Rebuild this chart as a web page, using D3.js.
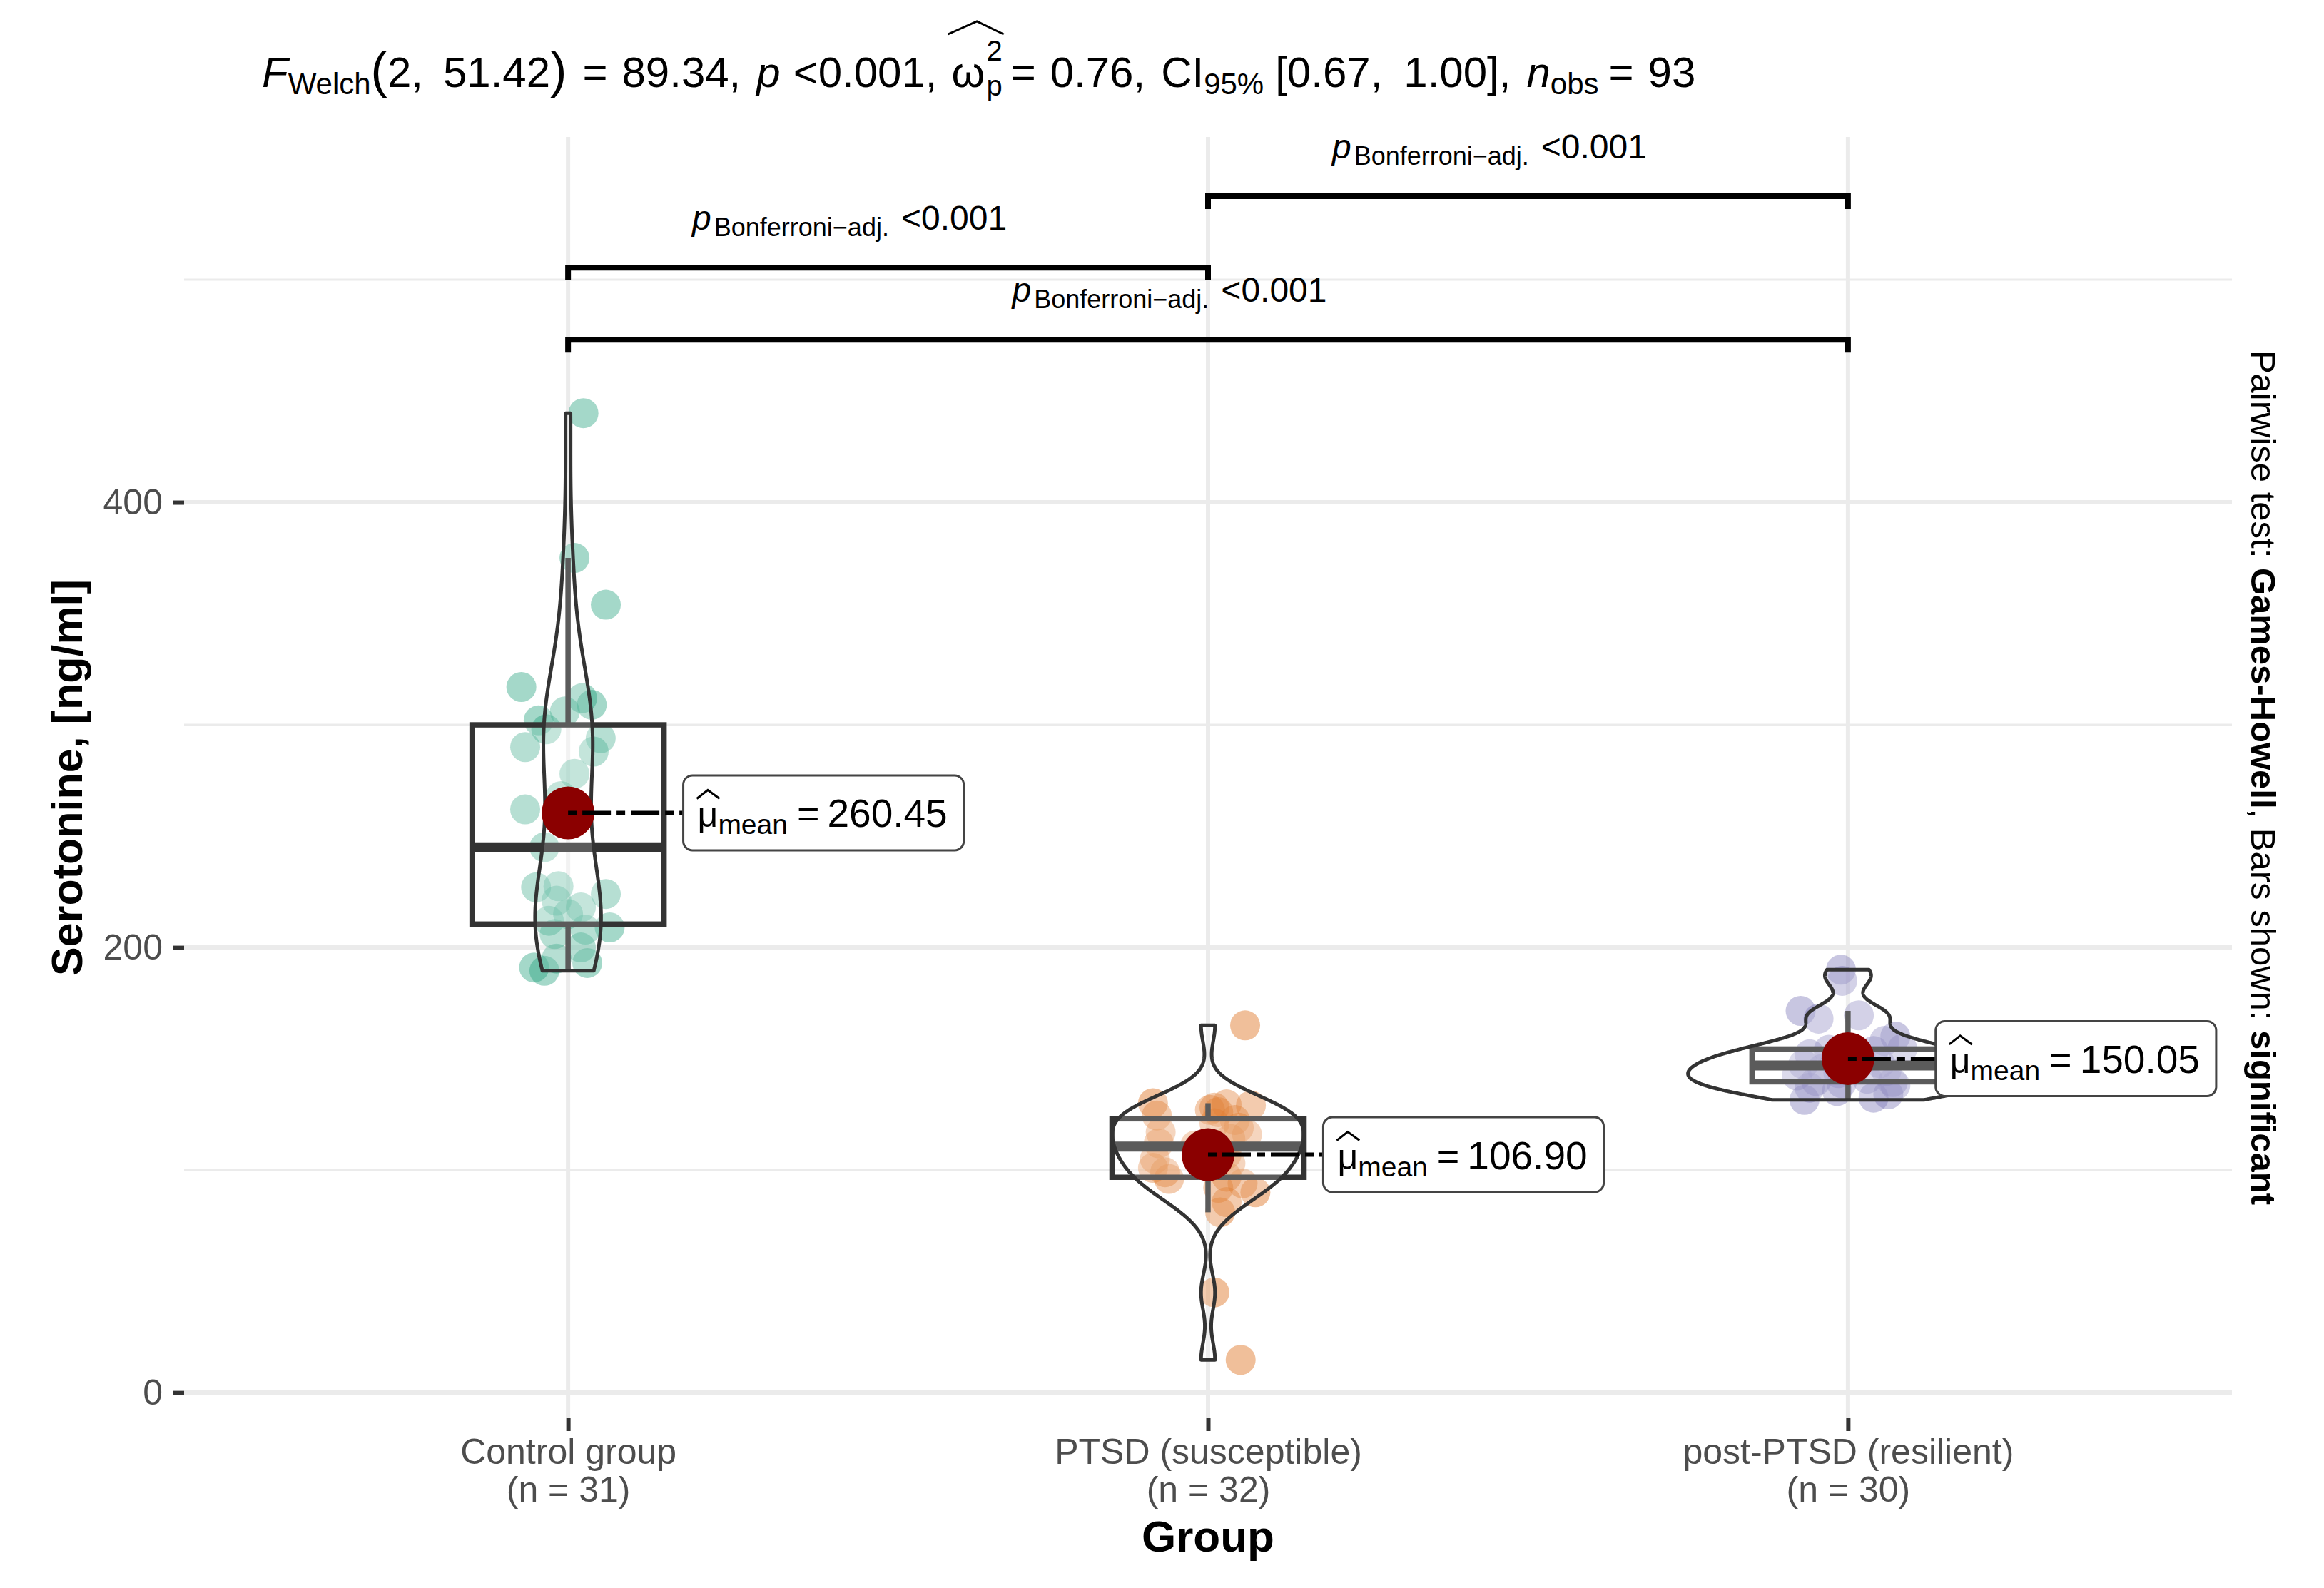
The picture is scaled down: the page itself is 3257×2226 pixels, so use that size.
<!DOCTYPE html>
<html><head><meta charset="utf-8">
<script src="https://cdn.jsdelivr.net/npm/d3@7"></script>
<style>
html,body{margin:0;padding:0;background:#fff;}
svg{display:block;font-family:"Liberation Sans",Arial,sans-serif;}
text{white-space:pre;}
</style>
</head><body>
<svg id="chart" width="3257" height="2226"></svg>
<script>
// ---------------- DATA ----------------
const categories = ["Control group", "PTSD (susceptible)", "post-PTSD (resilient)"];
const groupColors = ["#1B9E77", "#D95F02", "#7570B3"];

const controlValues = [189.5, 191, 193, 195, 200, 206, 208, 209, 212, 215, 218, 221, 224, 227, 227.5, 245,
  262, 268, 278, 288, 290, 294, 298, 302, 306, 309, 312, 317, 354, 375, 440];
const controlJitter = [-0.037, -0.053, 0.03, -0.018, 0.02, -0.021, 0.027, 0.065, -0.03, 0.0, 0.02, -0.018, 0.059,
  -0.05, -0.015, -0.037, -0.067, -0.011, 0.01, 0.04, -0.067, 0.051, -0.034, -0.046, -0.005, 0.037, 0.022, -0.073,
  0.059, 0.01, 0.024];

const ptsdValues = [14.7, 45, 81, 85.6, 90, 92, 94, 96, 97, 99, 101, 103, 105, 107, 109, 110, 111, 112, 114, 116,
  117, 119, 121, 122.5, 124.5, 126, 127, 128, 129, 129.5, 130, 165];
const ptsdJitter = [0.051, 0.01, 0.019, 0.029, 0.074, 0.016, 0.054, -0.061, 0.029, -0.067, -0.086, 0.035, -0.083,
  0.029, -0.003, 0.01, -0.02, -0.077, 0.035, 0.061, -0.074, 0.048, 0.01, 0.042, -0.08, 0.016, 0.003, 0.01, 0.067,
  0.029, -0.086, 0.058];

const postValues = [131.5, 132.5, 134, 135.5, 137, 138, 139, 139.5, 140, 141, 142.5, 143.5, 144.5, 145.5, 146.5,
  147.5, 148, 149, 150.5, 152, 153.5, 154, 154.5, 158, 160, 168, 169.5, 171.5, 185, 190];
const postJitter = [-0.068, 0.04, 0.063, -0.017, -0.06, 0.074, -0.01, 0.07, -0.05, 0.03, -0.08, -0.015, 0.06,
  -0.04, 0.01, -0.07, 0.05, -0.02, 0.02, -0.06, 0.04, -0.03, 0.085, 0.057, 0.074, -0.046, 0.017, -0.074, -0.009,
  -0.011];

const yTicks = [0, 200, 400];
const yMinorTicks = [100, 300, 500];
const yDomain = [-11.5, 564.1];

// pairwise comparisons (ggsignif style)
const pairFrom = [0, 1, 0];
const pairTo = [1, 2, 2];
const pairY = [505.4, 537.5, 473.0];
const pairP = ["<0.001", "<0.001", "<0.001"];

// ---------------- LAYOUT ----------------
const svg = d3.select("#chart");
const panel = {left: 258, right: 3128, top: 192, bottom: 1988};
const x = d3.scaleLinear().domain([0.4, 3.6]).range([panel.left, panel.right]);
const y = d3.scaleLinear().domain(yDomain).range([panel.bottom, panel.top]);
const step = x(2) - x(1);
const labelNudge = [0.18, 0.18, 0.137];

svg.append("rect").attr("width", 3257).attr("height", 2226).attr("fill", "#fff");

// math-text helper
function mathText(parent, parts) {
  const g = parent.append("g");
  let cx = 0;
  const marks = {};
  parts.forEach(p => {
    if (p.gap !== undefined) { cx += p.gap; return; }
    if (p.mark) { marks[p.mark] = cx; return; }
    if (p.stack) {
      const a = g.append("text").attr("x", cx).attr("y", p.supDy).attr("font-size", p.size).text(p.sup);
      const b = g.append("text").attr("x", cx).attr("y", p.subDy).attr("font-size", p.size).text(p.sub);
      cx += Math.max(a.node().getComputedTextLength(), b.node().getComputedTextLength());
      return;
    }
    const t = g.append("text").attr("x", cx).attr("y", p.dy || 0).attr("font-size", p.size)
      .attr("font-style", p.italic ? "italic" : null).attr("fill", p.fill || "#000").text(p.t);
    const w = t.node().getComputedTextLength();
    if (p.name) marks[p.name] = {x: cx, w: w};
    cx += w;
  });
  return {g: g, width: cx, marks: marks};
}

// ---------------- GRID ----------------
const grid = svg.append("g");
grid.selectAll(".minor").data(yMinorTicks).join("line")
  .attr("x1", panel.left).attr("x2", panel.right).attr("y1", d => y(d)).attr("y2", d => y(d))
  .attr("stroke", "#EBEBEB").attr("stroke-width", 3);
grid.selectAll(".major").data(yTicks).join("line")
  .attr("x1", panel.left).attr("x2", panel.right).attr("y1", d => y(d)).attr("y2", d => y(d))
  .attr("stroke", "#EBEBEB").attr("stroke-width", 6);
grid.selectAll(".vmajor").data(categories).join("line")
  .attr("x1", (d, i) => x(i + 1)).attr("x2", (d, i) => x(i + 1)).attr("y1", panel.top).attr("y2", panel.bottom)
  .attr("stroke", "#EBEBEB").attr("stroke-width", 6);

// ---------------- AXES ----------------
const yAxis = svg.append("g").attr("transform", `translate(${panel.left},0)`)
  .call(d3.axisLeft(y).tickValues(yTicks).tickSize(16).tickPadding(14));
yAxis.select(".domain").remove();
yAxis.attr("font-size", 50).attr("font-family", null);
yAxis.selectAll(".tick line").attr("stroke", "#333").attr("stroke-width", 6);
yAxis.selectAll(".tick text").attr("fill", "#4D4D4D");

const xAxis = svg.append("g").attr("transform", `translate(0,${panel.bottom})`)
  .call(d3.axisBottom(x).tickValues([1, 2, 3]).tickSize(18).tickFormat(""));
xAxis.select(".domain").remove();
xAxis.attr("font-size", 50).attr("font-family", null);
xAxis.selectAll(".tick line").attr("stroke", "#333").attr("stroke-width", 6);
const groupsAll = [controlValues, ptsdValues, postValues];
xAxis.selectAll(".tick").each(function (d, i) {
  const t = d3.select(this).select("text").attr("y", null).attr("dy", null).attr("fill", "#4D4D4D");
  t.append("tspan").attr("x", 0).attr("y", 64).text(categories[i]);
  t.append("tspan").attr("x", 0).attr("y", 117).text(`(n = ${groupsAll[i].length})`);
});

svg.append("text").attr("x", (panel.left + panel.right) / 2).attr("y", 2175).attr("text-anchor", "middle")
  .attr("font-size", 62).attr("font-weight", "bold").text("Group");
svg.append("text").attr("transform", `translate(115,${(panel.top + panel.bottom) / 2}) rotate(-90)`)
  .attr("text-anchor", "middle").attr("font-size", 61).attr("font-weight", "bold").text("Serotonine, [ng/ml]");

const cap = svg.append("text").attr("transform", `translate(3155,${(panel.top + panel.bottom) / 2}) rotate(90)`)
  .attr("text-anchor", "middle").attr("font-size", 49);
cap.append("tspan").text("Pairwise test: ");
cap.append("tspan").attr("font-weight", "bold").text("Games-Howell");
cap.append("tspan").text(", Bars shown: ");
cap.append("tspan").attr("font-weight", "bold").text("significant");

// ---------------- STATS ----------------
const jitters = [controlJitter, ptsdJitter, postJitter];
function kde(vals) {
  const s = vals.slice().sort(d3.ascending), n = s.length;
  const sd = d3.deviation(s);
  const iqr = d3.quantileSorted(s, 0.75) - d3.quantileSorted(s, 0.25);
  let lo = Math.min(sd, iqr / 1.34);
  if (!(lo > 0)) lo = sd || 1;
  const bw = 0.9 * lo * Math.pow(n, -0.2);
  const mn = s[0], mx = s[n - 1];
  return d3.range(512).map(k => {
    const t = mn + (mx - mn) * k / 511;
    let d = 0;
    for (const v of s) { const u = (t - v) / bw; d += Math.exp(-0.5 * u * u); }
    return {v: t, d: d / (n * bw * Math.sqrt(2 * Math.PI))};
  });
}
const stats = groupsAll.map(vals => {
  const s = vals.slice().sort(d3.ascending);
  const q1 = d3.quantileSorted(s, 0.25), med = d3.quantileSorted(s, 0.5), q3 = d3.quantileSorted(s, 0.75);
  const iqr = q3 - q1;
  const hi = d3.max(s.filter(v => v <= q3 + 1.5 * iqr));
  const lo = d3.min(s.filter(v => v >= q1 - 1.5 * iqr));
  return {q1, med, q3, hi, lo, mean: d3.mean(s), dens: kde(s)};
});
const maxD = d3.max(stats, s => d3.max(s.dens, p => p.d));

// ---------------- POINTS ----------------
const pts = svg.append("g");
groupsAll.forEach((vals, i) => {
  pts.selectAll(null).data(vals).join("circle")
    .attr("cx", (v, j) => x(i + 1 + jitters[i][j])).attr("cy", v => y(v)).attr("r", 21)
    .attr("fill", groupColors[i]).attr("fill-opacity", 0.4);
});

// ---------------- BOXPLOTS ----------------
const boxW = 0.3 * step;
const boxes = svg.append("g");
stats.forEach((s, i) => {
  const cx = x(i + 1);
  const g = boxes.append("g");
  g.append("line").attr("x1", cx).attr("x2", cx).attr("y1", y(s.q3)).attr("y2", y(s.hi))
    .attr("stroke", "#333").attr("stroke-width", 7.5);
  g.append("line").attr("x1", cx).attr("x2", cx).attr("y1", y(s.q1)).attr("y2", y(s.lo))
    .attr("stroke", "#333").attr("stroke-width", 7.5);
  g.append("rect").attr("x", cx - boxW / 2).attr("width", boxW).attr("y", y(s.q3)).attr("height", y(s.q1) - y(s.q3))
    .attr("fill", "#fff").attr("fill-opacity", 0.2).attr("stroke", "#333").attr("stroke-width", 7.5);
  g.append("line").attr("x1", cx - boxW / 2).attr("x2", cx + boxW / 2).attr("y1", y(s.med)).attr("y2", y(s.med))
    .attr("stroke", "#333").attr("stroke-width", 14);
});

// ---------------- VIOLINS ----------------
const vio = svg.append("g");
stats.forEach((s, i) => {
  const cx = x(i + 1);
  const hw = p => p.d / maxD * 0.25 * step;
  const area = d3.area().y(p => y(p.v)).x0(p => cx - hw(p)).x1(p => cx + hw(p));
  vio.append("path").attr("d", area(s.dens)).attr("fill", "#fff").attr("fill-opacity", 0.2)
    .attr("stroke", "#333").attr("stroke-width", 5).attr("stroke-linejoin", "round");
});

// ---------------- MEANS ----------------
const meanG = svg.append("g");
stats.forEach((s, i) => {
  meanG.append("circle").attr("cx", x(i + 1)).attr("cy", y(s.mean)).attr("r", 37).attr("fill", "#8B0000");
});
stats.forEach((s, i) => {
  const cx = x(i + 1), cy = y(s.mean);
  const left = cx + labelNudge[i] * step;
  meanG.append("line").attr("x1", cx).attr("x2", left).attr("y1", cy).attr("y2", cy)
    .attr("stroke", "#000").attr("stroke-width", 6).attr("stroke-dasharray", "12,8,40,8");
  const lab = meanG.append("g");
  const rect = lab.append("rect");
  const mt = mathText(lab, [
    {t: "\u03BC", size: 50, name: "mu"},
    {t: "mean", size: 39, dy: 10},
    {gap: 13},
    {t: "=", size: 54},
    {gap: 11},
    {t: (Math.round(s.mean * 100) / 100).toFixed(2), size: 55}
  ]);
  mt.g.attr("transform", `translate(${left + 20},${cy + 20})`);
  const mu = mt.marks.mu;
  mt.g.append("path").attr("d", `M${mu.x - 1},-40 L${mu.x + mu.w / 2},-52 L${mu.x + mu.w + 2},-40`)
    .attr("fill", "none").attr("stroke", "#000").attr("stroke-width", 3);
  rect.attr("x", left).attr("y", cy - 52.5).attr("width", mt.width + 43).attr("height", 105).attr("rx", 13)
    .attr("fill", "#fff").attr("stroke", "#444").attr("stroke-width", 3);
});

// ---------------- PAIRWISE BRACKETS ----------------
const br = svg.append("g");
const tip = 0.01 * (yDomain[1] - yDomain[0]);
pairFrom.forEach((a, k) => {
  const x1 = x(a + 1), x2 = x(pairTo[k] + 1), yy = y(pairY[k]), yt = y(pairY[k] - tip);
  br.append("path").attr("d", `M${x1},${yt} L${x1},${yy} L${x2},${yy} L${x2},${yt}`)
    .attr("fill", "none").attr("stroke", "#000").attr("stroke-width", 8);
  const mt = mathText(br, [
    {t: "p", size: 48, italic: true},
    {gap: 4},
    {t: "Bonferroni\u2212adj.", size: 36, dy: 9},
    {gap: 17},
    {t: pairP[k], size: 48}
  ]);
  mt.g.attr("transform", `translate(${(x1 + x2) / 2 - 54 - mt.width / 2},${yy - 53})`);
});

// ---------------- TITLE ----------------
const tt = mathText(svg, [
  {t: "F", size: 60, italic: true},
  {t: "Welch", size: 42, dy: 10},
  {t: "(", size: 70},
  {t: "2,", size: 60}, {gap: 28}, {t: "51.42", size: 60},
  {t: ")", size: 70},
  {gap: 22}, {t: "=", size: 60}, {gap: 20},
  {t: "89.34,", size: 60}, {gap: 22},
  {t: "p", size: 60, italic: true}, {gap: 18},
  {t: "<0.001,", size: 60}, {gap: 20},
  {mark: "hat0"},
  {t: "\u03C9", size: 60},
  {gap: 2},
  {stack: true, sup: "2", sub: "p", size: 40, supDy: -37, subDy: 12},
  {mark: "hat1"},
  {gap: 12}, {t: "=", size: 60}, {gap: 20},
  {t: "0.76,", size: 60}, {gap: 22},
  {t: "CI", size: 60},
  {t: "95%", size: 42, dy: 10}, {gap: 16},
  {t: "[0.67,", size: 60}, {gap: 30}, {t: "1.00],", size: 60}, {gap: 22},
  {t: "n", size: 60, italic: true},
  {t: "obs", size: 42, dy: 10},
  {gap: 14}, {t: "=", size: 60}, {gap: 20},
  {t: "93", size: 60}
]);
tt.g.attr("transform", "translate(367,122)");
tt.g.append("path").attr("d", `M${tt.marks.hat0 - 5},-74 L${(tt.marks.hat0 + tt.marks.hat1) / 2},-92 L${tt.marks.hat1 + 2},-74`)
  .attr("fill", "none").attr("stroke", "#000").attr("stroke-width", 3);
</script>
</body></html>
